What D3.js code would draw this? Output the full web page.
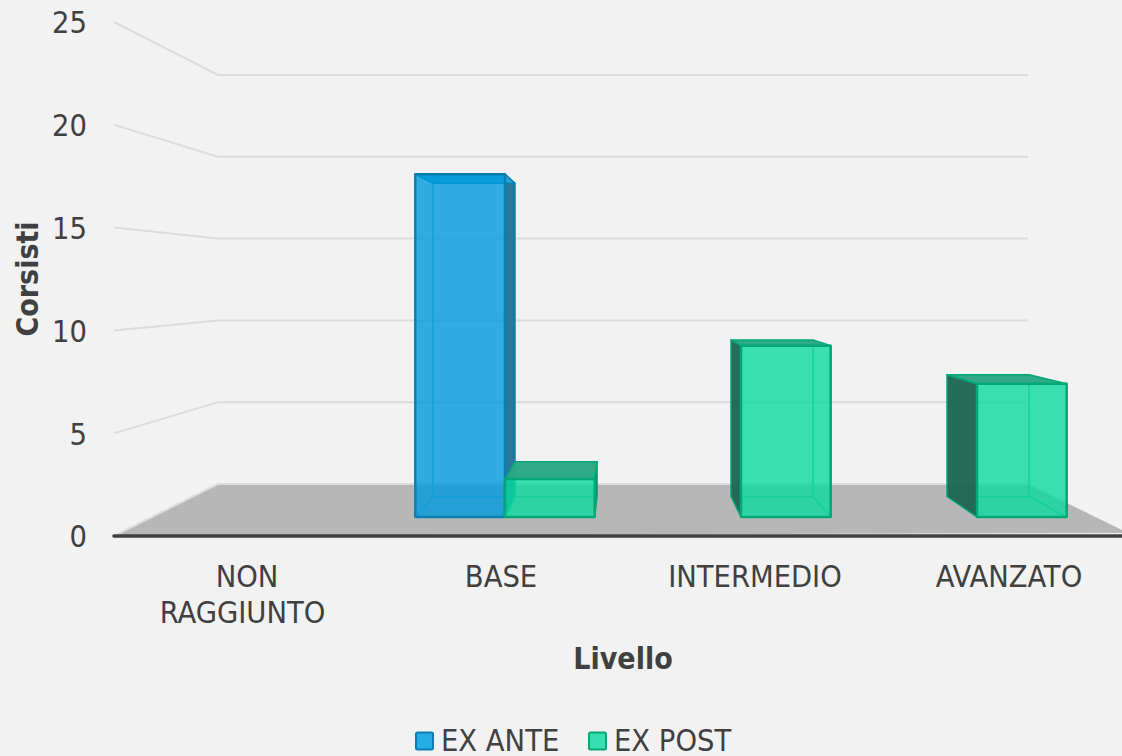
<!DOCTYPE html>
<html><head><meta charset="utf-8">
<script src="https://cdn.jsdelivr.net/npm/d3@7"></script>
<style>html,body{margin:0;padding:0;background:#f2f2f2}svg{display:block}text{font-family:"DejaVu Sans",sans-serif;font-stretch:condensed;fill:#404040}</style>
</head><body><svg id="c" width="1122" height="756"></svg>
<script>
const categories=[["NON","RAGGIUNTO"],["BASE"],["INTERMEDIO"],["AVANZATO"]];
const categoryKeys=["NON RAGGIUNTO","BASE","INTERMEDIO","AVANZATO"];
const seriesNames=["EX ANTE","EX POST"];
const exAnte=[0,18,0,0];
const exPost=[0,2,9,7];
const yTicks=[0,5,10,15,20,25];

const svg=d3.select("#c");
const W=1122,H=756,FS=30.5,FSB=30;
svg.append("rect").attr("width",W).attr("height",H).attr("fill","#f2f2f2");

const yFrontWall=d3.scaleLinear().domain([0,25]).range([536,22]);
const yBackWall=d3.scaleLinear().domain([0,25]).range([484,75]);
const xBackWall=d3.scaleLinear().domain([0,1]).range([218,1028]);
const xFrontWall=d3.scaleLinear().domain([0,1]).range([114,1122]);
const xF=d3.scaleLinear().domain([0,1]).range([151,1095]);
const xB=d3.scaleLinear().domain([0,1]).range([191,1055]);
const yF=d3.scaleLinear().domain([0,1]).range([517,517-19.04]);
const yB=d3.scaleLinear().domain([0,1]).range([496.5,496.5-17.4]);
const band=d3.scaleBand().domain(categoryKeys).range([0,1]);
const barW=0.095;

const line=d3.line();
svg.append("path").attr("d",line([[xFrontWall(0),yFrontWall(0)],[xBackWall(0),yBackWall(0)],[xBackWall(1),yBackWall(0)],[xFrontWall(1)+6,yFrontWall(0)-3]])+"Z")
  .attr("fill","#b7b7b7");
yTicks.forEach(v=>{
  svg.append("path").attr("fill","none").attr("stroke","#dcdcdc").attr("stroke-width",2)
    .attr("d",line([[xFrontWall(0),yFrontWall(v)],[xBackWall(0),yBackWall(v)],[xBackWall(1),yBackWall(v)]]));
});

const styles=[
 {front:"#0099dc",legend:"#27ade5",side:"#1f7099",top:"#2aa5dc",edge:"#0b80b0",inner:"#10a0dc"},
 {front:"#0ad99e",legend:"#38deaf",side:"#1a6450",top:"#2aa884",edge:"#02a778",inner:"#14d09c"}
];
function drawBar(catKey,val,si){
  if(!val) return;
  const c=band(catKey)+band.bandwidth()/2;
  const x0=si===0?c-barW:c, x1=si===0?c:c+barW;
  const s=styles[si];
  const g=svg.append("g");
  const fl=xF(x0),fr=xF(x1),bl=xB(x0),br=xB(x1);
  const fb=yF(0),ft=yF(val),bb=yB(0),bt=yB(val);
  const face=(pts,fill,op,stroke,sw)=>g.append("path").attr("d",line(pts)+"Z").attr("fill",fill).attr("fill-opacity",op)
     .attr("stroke",stroke).attr("stroke-width",sw).attr("stroke-linejoin","round");
  if(bl<fl) face([[bl,bt],[fl,ft],[fl,fb],[bl,bb]],s.side,.95,s.edge,1.5);
  if(br>fr) face([[fr,ft],[br,bt],[br,bb],[fr,fb]],s.side,.95,s.edge,1.5);
  face([[fl,ft],[fr,ft],[br,bt],[bl,bt]],s.top,.98,s.edge,1.5);
  face([[fl,ft],[fr,ft],[fr,fb],[fl,fb]],s.front,.8,"none",0);
  // hidden edges seen through the front face only
  let inner=line([[Math.max(bl,fl),bb],[Math.min(br,fr),bb]]);
  if(bl>fl) inner+=line([[bl,Math.max(bt,ft)],[bl,bb],[fl,fb]]);
  if(br<fr) inner+=line([[br,Math.max(bt,ft)],[br,bb],[fr,fb]]);
  g.append("path").attr("fill","none").attr("stroke",s.inner).attr("stroke-width",1.5).attr("d",inner);
  face([[fl,ft],[fr,ft],[fr,fb],[fl,fb]],"none",0,s.edge,2.5);
}
categoryKeys.forEach((k,i)=>drawBar(k,exAnte[i],0));
categoryKeys.forEach((k,i)=>drawBar(k,exPost[i],1));

svg.append("line").attr("x1",114).attr("x2",1122).attr("y1",536).attr("y2",536).attr("stroke","#404040").attr("stroke-width",3.5).attr("stroke-linecap","round");

const yAxis=d3.axisLeft(yFrontWall).tickValues(yTicks).tickSize(0).tickPadding(0);
const gy=svg.append("g").attr("transform","translate(87,0)").call(yAxis);
gy.select(".domain").remove();
gy.selectAll("text").style("font-size",FS+"px").attr("dy","0.36em").style("font-family",'"DejaVu Sans",sans-serif').style("font-stretch","condensed").attr("fill","#404040");

const xLab=d3.scaleBand().domain(categoryKeys).range([120,1136]);
categoryKeys.forEach((k,i)=>{
  const cx=xLab(k)+xLab.bandwidth()/2;
  const t=svg.append("text").attr("text-anchor","middle").attr("font-size",FS);
  categories[i].forEach((p,j)=>t.append("tspan").attr("x",cx-(j?4.5:0)).attr("y",587+j*36).text(p));
});
svg.append("text").attr("x",623).attr("y",669).attr("text-anchor","middle").attr("font-size",FSB).attr("font-weight",700).text("Livello");
svg.append("text").attr("transform","translate(38,279) rotate(-90)").attr("text-anchor","middle").attr("font-size",FSB).attr("font-weight",700).text("Corsisti");

const legX=[416,589];
seriesNames.forEach((n,i)=>{
  svg.append("rect").attr("x",legX[i]).attr("y",732.5).attr("width",17).attr("height",17).attr("rx",1.5)
    .attr("fill",styles[i].legend).attr("stroke",styles[i].edge).attr("stroke-width",2);
  svg.append("text").attr("x",legX[i]+25).attr("y",751).attr("font-size",FS).text(n);
});
</script></body></html>
